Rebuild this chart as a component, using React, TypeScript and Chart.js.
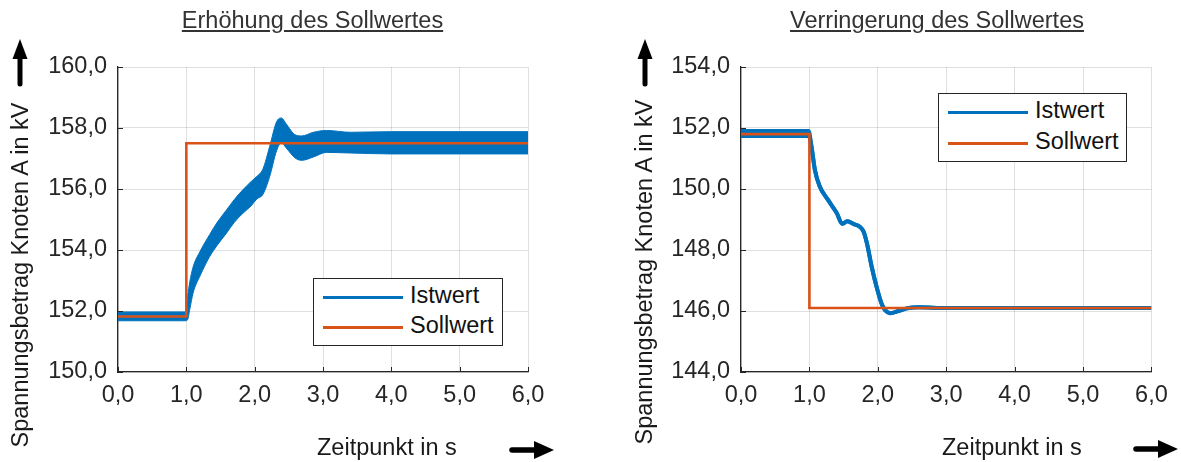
import React, { useEffect, useRef } from "react";
import { Chart, registerables } from "chart.js";

Chart.register(...registerables);

const FONT = "'Liberation Sans', Arial, Helvetica, sans-serif";
const BLUE = "#0072BD";
const ORANGE = "#D95319";
const AXIS = "#262626";

// ---------- Shared axis ticks ----------
const xTicks = [0, 1, 2, 3, 4, 5, 6];

// ---------- Left chart: Erhöhung des Sollwertes ----------
const upTime = [0, 0.99, 1.02, 1.05, 1.1, 1.2, 1.34, 1.45, 1.59, 1.7, 1.83, 1.95, 2.03, 2.12, 2.22, 2.32, 2.39, 2.46, 2.59, 2.69, 2.86, 3.05, 3.4, 4.0, 5.0, 6.0];
const upIstOben = [151.97, 151.97, 152.5, 152.95, 153.45, 153.95, 154.5, 154.9, 155.32, 155.65, 155.98, 156.25, 156.41, 156.65, 157.4, 158.2, 158.33, 158.14, 157.78, 157.74, 157.86, 157.92, 157.86, 157.88, 157.88, 157.88];
const upIstUnten = [151.68, 151.68, 151.72, 152.05, 152.6, 153.15, 153.78, 154.15, 154.56, 154.9, 155.21, 155.45, 155.67, 155.82, 156.41, 157.25, 157.52, 157.35, 157.02, 156.94, 157.05, 157.2, 157.18, 157.15, 157.15, 157.15];
const upSollTime = [0, 1, 1, 6];
const upSoll = [151.82, 151.82, 157.5, 157.5];
const upYTicks = [150, 152, 154, 156, 158, 160];

// ---------- Right chart: Verringerung des Sollwertes ----------
const downTime = [0, 0.99, 1.03, 1.08, 1.15, 1.27, 1.4, 1.48, 1.55, 1.64, 1.79, 1.84, 1.91, 1.98, 2.06, 2.11, 2.18, 2.3, 2.45, 2.6, 3.0, 6.0];
const downIstOben = [151.9, 151.9, 151.4, 150.63, 150.09, 149.65, 149.21, 148.86, 148.94, 148.86, 148.61, 148.23, 147.46, 146.81, 146.21, 146.02, 145.93, 146.0, 146.1, 146.12, 146.1, 146.1];
const downIstUnten = [151.74, 151.74, 151.4, 150.63, 150.09, 149.65, 149.21, 148.86, 148.94, 148.86, 148.61, 148.23, 147.46, 146.81, 146.21, 146.02, 145.93, 146.0, 146.1, 146.12, 146.1, 146.1];
const downSollTime = [0, 1, 1, 6];
const downSoll = [151.8, 151.8, 146.1, 146.1];
const downYTicks = [144, 146, 148, 150, 152, 154];

const LEGEND_LABELS = ["Istwert", "Sollwert"];

const fmt = (v: number) => Number(v).toFixed(1).replace(".", ",");

const inwardTicks = {
  id: "inwardTicks",
  afterDatasetsDraw(chart: any) {
    const { ctx, chartArea, scales } = chart;
    ctx.save();
    ctx.strokeStyle = AXIS;
    ctx.lineWidth = 1;
    scales.x.ticks.forEach((t: any) => {
      const px = Math.round(scales.x.getPixelForValue(t.value)) + 0.5;
      ctx.beginPath();
      ctx.moveTo(px, chartArea.bottom);
      ctx.lineTo(px, chartArea.bottom - 5);
      ctx.stroke();
    });
    scales.y.ticks.forEach((t: any) => {
      const py = Math.round(scales.y.getPixelForValue(t.value)) + 0.5;
      ctx.beginPath();
      ctx.moveTo(chartArea.left, py);
      ctx.lineTo(chartArea.left + 5, py);
      ctx.stroke();
    });
    ctx.restore();
  },
};

type Cfg = {
  time: number[];
  upper: number[];
  lower: number[];
  sollTime: number[];
  soll: number[];
  yTicks: number[];
  yWidth: number;
  padRight: number;
  bandWidth: number;
};

function makeConfig(c: Cfg): any {
  const pts = (xs: number[], ys: number[]) => xs.map((x, i) => ({ x, y: ys[i] }));
  const tickFont = { family: FONT, size: 23.5 };
  return {
    type: "line",
    data: {
      datasets: [
        {
          label: LEGEND_LABELS[1],
          data: pts(c.sollTime, c.soll),
          borderColor: ORANGE,
          borderWidth: 2.6,
          pointRadius: 0,
          tension: 0,
          fill: false,
          order: 0,
        },
        {
          label: LEGEND_LABELS[0],
          data: pts(c.time, c.upper),
          borderColor: BLUE,
          borderWidth: c.bandWidth,
          pointRadius: 0,
          cubicInterpolationMode: "monotone",
          fill: false,
          order: 1,
        },
        {
          label: LEGEND_LABELS[0] + " (unten)",
          data: pts(c.time, c.lower),
          borderColor: BLUE,
          backgroundColor: BLUE,
          borderWidth: c.bandWidth,
          pointRadius: 0,
          cubicInterpolationMode: "monotone",
          fill: "-1",
          order: 2,
        },
      ],
    },
    options: {
      animation: false,
      responsive: false,
      devicePixelRatio: 1,
      layout: { padding: { left: 0, right: c.padRight, top: 67, bottom: 0 } },
      plugins: { legend: { display: false }, tooltip: { enabled: false }, title: { display: false } },
      scales: {
        x: {
          type: "linear",
          min: 0,
          max: 6,
          afterBuildTicks: (s: any) => {
            s.ticks = xTicks.map((v) => ({ value: v }));
          },
          afterFit: (s: any) => {
            s.height = 90;
          },
          ticks: { callback: (v: any) => fmt(v), font: tickFont, color: AXIS, padding: 9, maxRotation: 0, autoSkip: false },
          grid: { color: "rgba(0,0,0,0.12)", drawTicks: false, lineWidth: 1 },
          border: { color: AXIS, width: 1.3 },
        },
        y: {
          type: "linear",
          min: c.yTicks[0],
          max: c.yTicks[c.yTicks.length - 1],
          afterBuildTicks: (s: any) => {
            s.ticks = c.yTicks.map((v) => ({ value: v }));
          },
          afterFit: (s: any) => {
            s.width = c.yWidth;
          },
          ticks: { callback: (v: any) => fmt(v), font: tickFont, color: AXIS, padding: 11, autoSkip: false },
          grid: { color: "rgba(0,0,0,0.12)", drawTicks: false, lineWidth: 1 },
          border: { color: AXIS, width: 1.3 },
        },
      },
    },
    plugins: [inwardTicks],
  };
}

function ChartCanvas(props: { cfg: Cfg; left: number; width: number }) {
  const ref = useRef<HTMLCanvasElement | null>(null);
  useEffect(() => {
    if (!ref.current) return;
    const chart = new Chart(ref.current, makeConfig(props.cfg));
    return () => chart.destroy();
  }, []);
  return (
    <canvas
      ref={ref}
      width={props.width}
      height={462}
      style={{ position: "absolute", left: props.left, top: 0, width: props.width, height: 462 }}
    />
  );
}

const textBase: React.CSSProperties = {
  position: "absolute",
  fontFamily: FONT,
  fontSize: 23.5,
  lineHeight: "23.5px",
  whiteSpace: "nowrap",
  color: "#1a1a1a",
};

function Legend(props: { left: number; top: number; width: number; height: number; rowGap: number }) {
  const colors = [BLUE, ORANGE];
  return (
    <div
      style={{
        position: "absolute",
        left: props.left,
        top: props.top,
        width: props.width,
        height: props.height,
        border: "1.3px solid #262626",
        background: "#fff",
        boxSizing: "border-box",
      }}
    >
      {LEGEND_LABELS.map((lab, i) => (
        <div key={lab}>
          <div
            style={{
              position: "absolute",
              left: 9,
              top: 17 + i * props.rowGap,
              width: 80,
              height: 3,
              background: colors[i],
            }}
          />
          <div style={{ ...textBase, left: 96, top: 18.5 + i * props.rowGap - 11.75 - 2, color: "#111" }}>{lab}</div>
        </div>
      ))}
    </div>
  );
}

function UpArrow({ x }: { x: number }) {
  return (
    <svg style={{ position: "absolute", left: x - 10, top: 36, overflow: "visible" }} width={20} height={54}>
      <line x1={10} y1={20} x2={10} y2={48} stroke="#000" strokeWidth={5} strokeLinecap="round" />
      <polygon points="10,3 2.5,23 17.5,23" fill="#000" />
    </svg>
  );
}

function RightArrow({ x, y }: { x: number; y: number }) {
  return (
    <svg style={{ position: "absolute", left: x, top: y - 10, overflow: "visible" }} width={46} height={20}>
      <line x1={3} y1={10} x2={28} y2={10} stroke="#000" strokeWidth={5.5} strokeLinecap="round" />
      <polygon points="25,1 45,10 25,19" fill="#000" />
    </svg>
  );
}

export default function App() {
  const leftCfg: Cfg = {
    time: upTime,
    upper: upIstOben,
    lower: upIstUnten,
    sollTime: upSollTime,
    soll: upSoll,
    yTicks: upYTicks,
    yWidth: 118,
    padRight: 67,
    bandWidth: 1,
  };
  const rightCfg: Cfg = {
    time: downTime,
    upper: downIstOben,
    lower: downIstUnten,
    sollTime: downSollTime,
    soll: downSoll,
    yTicks: downYTicks,
    yWidth: 146,
    padRight: 29.6,
    bandWidth: 4,
  };
  return (
    <div style={{ position: "absolute", left: 0, top: 0, width: 1181, height: 462, background: "#fff", overflow: "hidden" }}>
      <ChartCanvas cfg={leftCfg} left={0} width={595} />
      <ChartCanvas cfg={rightCfg} left={595} width={586} />

      <div style={{ ...textBase, left: 312.5, top: 8.5, transform: "translateX(-50%)", textDecoration: "underline", color: "#333" }}>
        Erhöhung des Sollwertes
      </div>
      <div style={{ ...textBase, left: 937, top: 8.5, transform: "translateX(-50%)", textDecoration: "underline", color: "#333" }}>
        Verringerung des Sollwertes
      </div>

      <div style={{ ...textBase, left: 21, top: 275, transform: "translate(-50%, -50%) rotate(-90deg)" }}>
        Spannungsbetrag Knoten A in kV
      </div>
      <div style={{ ...textBase, left: 645, top: 272, transform: "translate(-50%, -50%) rotate(-90deg)" }}>
        Spannungsbetrag Knoten A in kV
      </div>

      <div style={{ ...textBase, left: 317, top: 436 }}>Zeitpunkt in s</div>
      <div style={{ ...textBase, left: 942, top: 436 }}>Zeitpunkt in s</div>

      <UpArrow x={20} />
      <UpArrow x={645} />
      <RightArrow x={509} y={450} />
      <RightArrow x={1133} y={449} />

      <Legend left={313} top={278} width={190} height={68} rowGap={30} />
      <Legend left={938} top={93} width={189} height={69} rowGap={31} />
    </div>
  );
}
